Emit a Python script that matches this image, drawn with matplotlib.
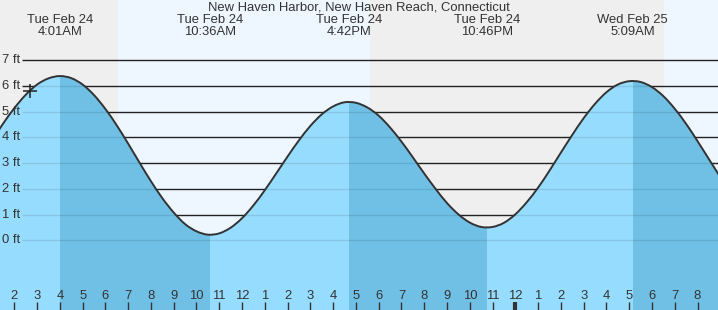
#!/usr/bin/env python3
import numpy as np
import matplotlib
matplotlib.use("Agg")
import matplotlib.pyplot as plt
from matplotlib.path import Path
from matplotlib.patches import PathPatch, Rectangle

TITLE = "New Haven Harbor, New Haven Reach, Connecticut"

# tide extremes (hours since midnight Tue Feb 24, feet)
extreme_hours = [4.017, 10.6, 16.7, 22.767, 29.15]
extreme_ft = [6.39, 0.22, 5.38, 0.5, 6.2]
extreme_day = ["Tue Feb 24", "Tue Feb 24", "Tue Feb 24", "Tue Feb 24", "Wed Feb 25"]
extreme_time = ["4:01AM", "10:36AM", "4:42PM", "10:46PM", "5:09AM"]

# half-hourly tide height readings (ft), 1:00 AM Tue .. 9:00 AM Wed
reading_hours = [1.0, 1.5, 2.0, 2.5, 3.0, 3.5, 4.0, 4.5, 5.0, 5.5, 6.0, 6.5, 7.0, 7.5,
                 8.0, 8.5, 9.0, 9.5, 10.0, 10.5, 11.0, 11.5, 12.0, 12.5, 13.0, 13.5,
                 14.0, 14.5, 15.0, 15.5, 16.0, 16.5, 17.0, 17.5, 18.0, 18.5, 19.0, 19.5,
                 20.0, 20.5, 21.0, 21.5, 22.0, 22.5, 23.0, 23.5, 24.0, 24.5, 25.0, 25.5,
                 26.0, 26.5, 27.0, 27.5, 28.0, 28.5, 29.0, 29.5, 30.0, 30.5, 31.0, 31.5,
                 32.0, 32.5, 33.0]
reading_ft = [3.85, 4.53, 5.14, 5.66, 6.06, 6.30, 6.39, 6.31, 6.06, 5.65, 5.11, 4.47, 3.76, 3.02,
              2.30, 1.64, 1.08, 0.63, 0.35, 0.22, 0.27, 0.49, 0.86, 1.36, 1.95, 2.60,
              3.26, 3.89, 4.45, 4.90, 5.21, 5.37, 5.35, 5.17, 4.85, 4.39, 3.84, 3.23,
              2.60, 2.00, 1.45, 1.01, 0.69, 0.52, 0.52, 0.68, 1.01, 1.48, 2.05, 2.71,
              3.41, 4.10, 4.75, 5.31, 5.76, 6.06, 6.19, 6.16, 5.96, 5.61, 5.12, 4.53,
              3.86, 3.16, 2.46]

# current time marker
now_hour = 2.69
now_ft = 5.82

# daylight (sunrise / sunset, hours)
day_start = [6.57, 30.53]
day_end = [17.62, 40.0]

ft_ticks = [0, 1, 2, 3, 4, 5, 6, 7]
hour_ticks = list(range(2, 33))

X0, X1 = 1.372, 32.9
Y0, Y1 = -2.712, 9.35
NIGHT = "#efefef"
DAY = "#eef7ff"
RISE = "#96dcfe"
FALL = "#70c0e6"
INK = "#333333"
FONT = ["Liberation Sans", "DejaVu Sans"]


def smooth_path(xs, ys):
    # catmull-rom through the readings, drawn as cubic beziers
    p = np.column_stack([xs, ys])
    ext = np.vstack([p[0], p, p[-1]])
    verts = [p[0]]
    codes = [Path.MOVETO]
    for i in range(len(p) - 1):
        p0, p1, p2, p3 = ext[i], ext[i + 1], ext[i + 2], ext[i + 3]
        verts += [p1 + (p2 - p0) / 6, p2 - (p3 - p1) / 6, p2]
        codes += [Path.CURVE4] * 3
    return verts, codes


def main():
    plt.rcParams["font.family"] = FONT
    fig = plt.figure(figsize=(7.18, 3.10), dpi=100)
    ax = fig.add_axes([0, 0, 1, 1])
    ax.set_xlim(X0, X1)
    ax.set_ylim(Y0, Y1)
    ax.axis("off")

    ax.axvspan(X0, X1, color=NIGHT, lw=0, zorder=0)
    for a, b in zip(day_start, day_end):
        ax.axvspan(a, b, color=DAY, lw=0, zorder=0)

    verts, codes = smooth_path(reading_hours, reading_ft)
    curve = Path(verts, codes)
    area = Path(verts + [(reading_hours[-1], Y0), (reading_hours[0], Y0), verts[0]],
                codes + [Path.LINETO, Path.LINETO, Path.CLOSEPOLY])
    clip = PathPatch(area, transform=ax.transData)

    grid_x0 = X0 + 22 / 22.77
    ax.hlines(ft_ticks, grid_x0, X1, color="#222222", lw=1.0, zorder=1)

    # rising (light) / falling (dark) water
    bounds = [reading_hours[0]] + extreme_hours + [reading_hours[-1]]
    for i in range(len(bounds) - 1):
        rect = Rectangle((bounds[i], Y0), bounds[i + 1] - bounds[i], Y1 - Y0,
                         facecolor=FALL if i % 2 else RISE, lw=0, zorder=2)
        ax.add_patch(rect)
        rect.set_clip_path(clip)

    # gridlines showing through the water
    g = ax.hlines(ft_ticks, grid_x0, X1, color="black", alpha=0.1, lw=1.0, zorder=3)
    g.set_clip_path(clip)
    ax.add_patch(PathPatch(curve, fill=False, edgecolor=INK, lw=1.4, zorder=4))
    ax.plot([now_hour], [now_ft], marker="+", color="#222222", ms=10, mew=1.1, zorder=5)

    for v in ft_ticks:
        ax.text(X0 + 20 / 22.77, v, f"{v} ft", ha="right", va="center",
                fontsize=9.4, color=INK, zorder=6)

    ax.text(0.5, 1 - 7 / 310, TITLE, transform=ax.transAxes, ha="center",
            va="center", fontsize=9.4, color=INK)
    for x, d, tm in zip(extreme_hours, extreme_day, extreme_time):
        ax.text(x, Y1 - 20 / 25.7, d, ha="center", va="center", fontsize=9.4, color=INK)
        ax.text(x, Y1 - 32 / 25.7, tm, ha="center", va="center", fontsize=9.4, color=INK)

    # hour axis along the bottom
    for hr in hour_ticks:
        lbl = (hr - 1) % 12 + 1
        ax.text(hr, Y1 - 296 / 25.7, str(lbl), ha="center", va="center",
                fontsize=9.4, color=INK, zorder=6)
        ax.vlines(hr, Y0, Y1 - 302 / 25.7, color=INK,
                  lw=3 if hr % 24 == 0 else 1, zorder=6)

    fig.savefig("out.png", dpi=100)


if __name__ == "__main__":
    main()
